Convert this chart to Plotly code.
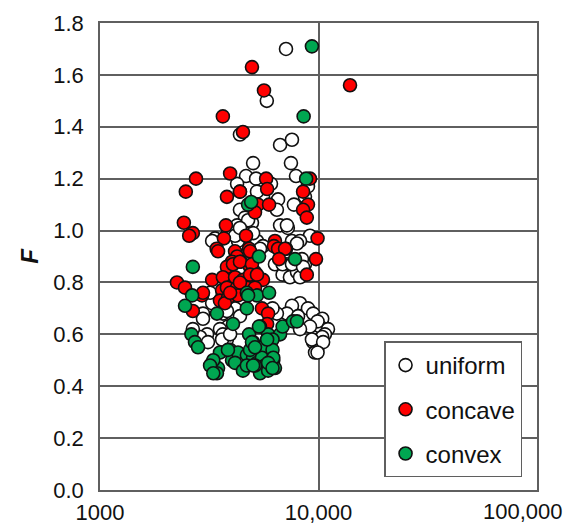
import plotly.graph_objects as go

# ---- data ----
uniform_x = [7100, 5800, 4370, 6670, 7560, 5020, 7480, 7890, 4660, 5180,
             6060, 4240, 8950, 8670, 5400, 6530, 7720, 4370, 6450, 5570,
             4610, 5230, 3360, 4240, 4510, 4960, 4280, 5230, 6670, 7240,
             9140, 7560, 8230, 5570, 3260, 3850, 4060, 5020, 5400, 7170,
             7970, 6320, 7170, 7970, 8670, 6850, 7400, 7970, 8230, 6850,
             7560, 8400, 8500, 2960, 3260, 3650, 4150, 4370, 3850, 3540,
             3090, 2870, 3120, 2660, 3650, 3810, 3190, 2960, 3810, 3620,
             3940, 8230, 8950, 9450, 10400, 10160, 11050, 10700, 9450, 9900,
             9640, 7560, 7170, 6450, 8060, 9900, 9140, 8230, 10400, 9330,
             10500, 9900, 6160, 4370, 4760, 4150, 4370]
uniform_y = [1.70, 1.50, 1.37, 1.33, 1.35, 1.26, 1.26, 1.21, 1.21, 1.20,
             1.18, 1.18, 1.17, 1.13, 1.13, 1.12, 1.10, 1.08, 1.08, 1.13,
             1.05, 1.15, 0.97, 1.02, 1.00, 1.03, 0.96, 0.96, 1.02, 1.01,
             0.98, 0.96, 0.96, 0.94, 0.96, 0.99, 0.99, 0.99, 0.93, 1.02,
             0.95, 0.87, 0.87, 0.86, 0.87, 0.83, 0.82, 0.84, 0.82, 0.87,
             0.87, 0.89, 0.86, 0.68, 0.72, 0.68, 0.70, 0.67, 0.63, 0.62,
             0.60, 0.59, 0.57, 0.62, 0.60, 0.58, 0.76, 0.66, 0.69, 0.58,
             0.60, 0.72, 0.70, 0.68, 0.66, 0.63, 0.62, 0.60, 0.57, 0.55,
             0.53, 0.71, 0.68, 0.68, 0.67, 0.65, 0.63, 0.62, 0.59, 0.58,
             0.57, 0.53, 0.70, 1.15, 1.04, 0.98, 1.01]

concave_x = [4960, 5630, 13940, 3650, 4510, 9140, 2750, 2470, 3940, 5760,
             4370, 5820, 8500, 3810, 8950, 8500, 5280, 5940, 5120, 8840,
             2420, 2660, 2560, 3770, 3690, 3420, 4660, 4810, 9900, 6320,
             7100, 6250, 9740, 6530, 7030, 6600, 8840, 4150, 4240, 4020,
             4420, 4860, 5120, 3810, 3260, 3650, 4150, 4510, 5020, 5570,
             2250, 2450, 2930, 3620, 3810, 4240, 4700, 5120, 3540, 3850,
             4280, 2660, 5510, 5880, 5820, 3470, 4060, 4370, 4860, 4960,
             4860, 3730, 3940, 4370, 5230, 2960]
concave_y = [1.63, 1.54, 1.56, 1.44, 1.38, 1.20, 1.20, 1.15, 1.22, 1.20,
             1.15, 1.16, 1.15, 1.13, 1.10, 1.08, 1.10, 1.10, 1.07, 1.05,
             1.03, 0.99, 0.98, 1.02, 0.97, 0.93, 0.98, 0.93, 0.97, 0.96,
             0.93, 0.94, 0.89, 0.93, 0.93, 0.89, 0.83, 0.92, 0.90, 0.88,
             0.88, 0.86, 0.84, 0.86, 0.81, 0.82, 0.82, 0.81, 0.81, 0.81,
             0.80, 0.78, 0.75, 0.77, 0.78, 0.78, 0.78, 0.78, 0.73, 0.74,
             0.75, 0.69, 0.70, 0.68, 0.64, 0.92, 0.87, 0.88, 0.92, 0.87,
             0.83, 0.72, 0.76, 0.80, 0.83, 0.76]

convex_x = [9330, 8550, 8780, 4760, 4920, 5340, 7810, 2660, 2640, 2450,
            4700, 5230, 5940, 4700, 3430, 4060, 4810, 5400, 5880, 6670,
            6850, 7640, 7970, 5020, 5570, 6160, 3540, 3260, 3470, 3430,
            3940, 4020, 4280, 4150, 4700, 5020, 5230, 5510, 5690, 5400,
            5880, 6210, 6320, 6160, 4510, 2620, 2720, 2810, 3850, 3300,
            3190, 3300, 4860, 4960, 4700, 5120, 4760, 5340, 5820, 5120,
            6210, 5880, 6160, 5020]
convex_y = [1.71, 1.44, 1.20, 1.10, 1.11, 0.90, 0.89, 0.86, 0.75, 0.71,
            0.76, 0.75, 0.76, 0.70, 0.68, 0.64, 0.60, 0.63, 0.60, 0.60,
            0.63, 0.65, 0.65, 0.57, 0.55, 0.58, 0.53, 0.49, 0.47, 0.45,
            0.54, 0.50, 0.53, 0.49, 0.52, 0.51, 0.49, 0.51, 0.48, 0.45,
            0.46, 0.50, 0.47, 0.54, 0.46, 0.60, 0.57, 0.55, 0.54, 0.50,
            0.48, 0.45, 0.54, 0.57, 0.48, 0.48, 0.75, 0.63, 0.58, 0.55,
            0.51, 0.49, 0.47, 0.48]

series = [
    ("uniform", uniform_x, uniform_y, "#FFFFFF"),
    ("concave", concave_x, concave_y, "#FF0000"),
    ("convex", convex_x, convex_y, "#00A651"),
]

x_tickvals = [1000, 10000]
x_ticktext = ["1000", "10,000"]
x_last_label = "100,000"

FONT = "Liberation Sans, Arial, sans-serif"
GRID = "#5f5f5f"
TXT = "#111111"

fig = go.Figure()
for name, xs, ys, col in series:
    fig.add_trace(go.Scatter(
        x=xs, y=ys, mode="markers", name=name, legendgroup=name,
        marker=dict(size=13, color=col, line=dict(color=TXT, width=1.6)),
    ))

# last x tick label sits flush with the right edge of the image (as in the reference)
fig.add_annotation(
    text=x_last_label, xref="paper", yref="paper",
    x=1 + 28 / 437, y=0, xanchor="right", yanchor="top",
    yshift=-7, showarrow=False,
    font=dict(family=FONT, size=22, color=TXT),
)

fig.update_layout(
    width=565, height=527,
    margin=dict(l=100, r=28, t=23, b=37, autoexpand=False),
    paper_bgcolor="white", plot_bgcolor="white",
    font=dict(family=FONT, size=22, color=TXT),
    showlegend=True,
    legend=dict(
        x=0.65, y=0.318, xanchor="left", yanchor="top",
        bgcolor="white", bordercolor=GRID, borderwidth=1.5,
        font=dict(family=FONT, size=24, color=TXT),
        tracegroupgap=10, itemwidth=30,
    ),
    xaxis=dict(
        type="log", range=[3, 5], automargin=False,
        tickvals=x_tickvals, ticktext=x_ticktext,
        showgrid=True, gridcolor=GRID, gridwidth=1.5,
        showline=True, linecolor=GRID, linewidth=1.5, mirror=True,
        ticks="", zeroline=False, ticklabelstandoff=2,
        tickfont=dict(family=FONT, size=22, color=TXT),
    ),
    yaxis=dict(
        range=[0, 1.8], dtick=0.2, tickformat=".1f", automargin=False,
        showgrid=True, gridcolor=GRID, gridwidth=1.5,
        showline=True, linecolor=GRID, linewidth=1.5, mirror=True,
        ticks="", zeroline=False, ticklabelstandoff=10,
        tickfont=dict(family=FONT, size=22, color=TXT),
        title=dict(text="<b><i>F</i></b>", font=dict(family=FONT, size=24, color=TXT), standoff=8),
    ),
)

fig.write_html("out.html")
